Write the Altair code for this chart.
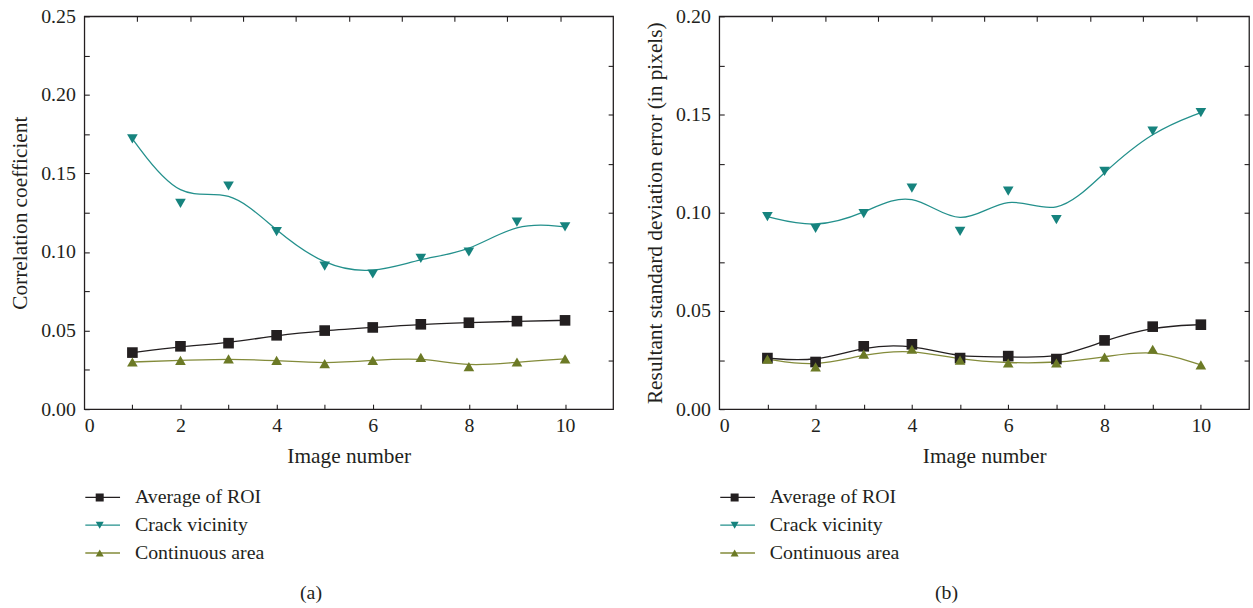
import altair as alt
import pandas as pd

image_numbers = [1, 2, 3, 4, 5, 6, 7, 8, 9, 10]
series_names = ["Average of ROI", "Crack vicinity", "Continuous area"]

# Panel (a): correlation coefficient
a_avg_roi = [0.036, 0.040, 0.042, 0.047, 0.050, 0.052, 0.054, 0.055, 0.056, 0.0565]
a_crack = [0.172, 0.131, 0.142, 0.113, 0.091, 0.086, 0.096, 0.100, 0.119, 0.116]
a_continuous = [0.030, 0.031, 0.032, 0.031, 0.029, 0.031, 0.033, 0.027, 0.030, 0.032]

# Panel (b): resultant standard deviation error
b_avg_roi = [0.026, 0.024, 0.032, 0.033, 0.026, 0.027, 0.0255, 0.035, 0.042, 0.043]
b_crack = [0.098, 0.092, 0.0995, 0.1125, 0.0905, 0.111, 0.0965, 0.121, 0.1415, 0.151]
b_continuous = [0.0255, 0.0215, 0.028, 0.0305, 0.025, 0.0235, 0.0235, 0.0265, 0.0305, 0.0225]

x_label_values = [0, 2, 4, 6, 8, 10]
x_tick_values = [1, 2, 3, 4, 5, 6, 7, 8, 9, 10]
frame_x_ticks = [1, 2, 3, 4, 5, 6, 7, 8, 9]
frame_y_ticks = [0.025, 0.05, 0.075, 0.1, 0.125, 0.15, 0.175]

line_colors = ["#231f20", "#23908c", "#838b3a"]
marker_colors = ["#231f20", "#16837e", "#6c7a26"]
marker_shapes = ["square", "triangle-down", "triangle-up"]

FONT = "Liberation Serif"
TXT = "#231f20"
W_A, W_B, H = 533, 534, 396


def make_df(avg, crack, cont):
    rows = []
    for name, vals in zip(series_names, [avg, crack, cont]):
        for x, v in zip(image_numbers, vals):
            rows.append({"image": x, "value": v, "series": name, "line_series": name})
    return pd.DataFrame(rows)


def panel(df, width, ymax, ytitle, minor_values, caption):
    stroke_legend = alt.Legend(
        orient="none", legendX=0, legendY=475, title=None, values=series_names,
        symbolType="stroke", symbolSize=1225, symbolStrokeWidth=1.3,
        labelFont=FONT, labelFontSize=20, labelColor=TXT, labelOffset=14,
        clipHeight=20, rowPadding=8, padding=0,
    )
    point_legend = alt.Legend(
        orient="none", legendX=5.5, legendY=475, title=None,
        symbolSize=65, symbolStrokeWidth=0, symbolOpacity=1,
        labelFont=FONT, labelFontSize=20, labelColor=TXT, labelExpr="''",
        clipHeight=20, rowPadding=8, padding=0,
    )
    lines = alt.Chart(df).mark_line(interpolate="basis", strokeWidth=1.3).encode(
        x=alt.X("image:Q", scale=alt.Scale(domain=[0, 11], nice=False, zero=False),
                axis=alt.Axis(orient="bottom", values=x_label_values, format="d",
                              ticks=False, domain=False, grid=False, labelPadding=7,
                              title="Image number", titlePadding=10)),
        y=alt.Y("value:Q", scale=alt.Scale(domain=[0, ymax], nice=False),
                axis=alt.Axis(orient="left", values=[round(0.05 * i, 2) for i in range(int(round(ymax / 0.05)) + 1)],
                              format=".2f", ticks=False, domain=False, grid=False,
                              labelPadding=9, title=ytitle, titlePadding=9)),
        stroke=alt.Stroke("line_series:N",
                          scale=alt.Scale(domain=series_names[::-1], range=line_colors[::-1]),
                          legend=stroke_legend),
    )
    points = alt.Chart(df).mark_point(filled=True, opacity=1, strokeWidth=0, size=115).encode(
        x=alt.X("image:Q", scale=alt.Scale(domain=[0, 11], nice=False, zero=False),
                axis=alt.Axis(orient="top", offset=-H, values=x_tick_values, labels=False,
                              tickSize=5, domain=False, grid=False, title=None)),
        y=alt.Y("value:Q", scale=alt.Scale(domain=[0, ymax], nice=False),
                axis=alt.Axis(orient="right", offset=-width, values=minor_values, labels=False,
                              tickSize=5, domain=False, grid=False, title=None)),
        fill=alt.Fill("series:N", scale=alt.Scale(domain=series_names, range=marker_colors),
                      legend=point_legend),
        shape=alt.Shape("series:N", scale=alt.Scale(domain=series_names, range=marker_shapes),
                        legend=point_legend),
    )
    frame = alt.Chart(df).mark_point(opacity=0).encode(
        x=alt.X("image:Q", scale=alt.Scale(domain=[0, 10], nice=False, zero=False),
                axis=alt.Axis(orient="bottom", offset=-H, values=frame_x_ticks, labels=False,
                              tickSize=5, domain=False, grid=False, title=None)),
        y=alt.Y("value:Q", scale=alt.Scale(domain=[0, 0.2], nice=False),
                axis=alt.Axis(orient="left", offset=-width, values=frame_y_ticks, labels=False,
                              tickSize=5, domain=False, grid=False, title=None)),
    )
    return alt.layer(lines, points, frame).resolve_scale(
        x="independent", y="independent"
    ).properties(
        width=width, height=H,
        title=alt.TitleParams(caption, orient="bottom", anchor="middle", dx=-38, offset=20,
                              font=FONT, fontSize=20, fontWeight="normal", color=TXT),
    )


df_a = make_df(a_avg_roi, a_crack, a_continuous)
df_b = make_df(b_avg_roi, b_crack, b_continuous)

minor_a = [round(0.025 * i, 3) for i in range(11)]
minor_b = [round(0.025 * i, 3) for i in range(9)]

pa = panel(df_a, W_A, 0.25, "Correlation coefficient", minor_a, "(a)")
pb = panel(df_b, W_B, 0.20, "Resultant standard deviation error (in pixels)", minor_b, "(b)")

chart = alt.hconcat(pa, pb, spacing=27).resolve_scale(
    stroke="independent", fill="independent", shape="independent"
).resolve_legend(
    stroke="independent", fill="independent", shape="independent"
).properties(
    padding={"left": 9, "top": 3, "right": 0, "bottom": 0},
    background="white",
).configure_view(
    stroke=TXT, strokeWidth=1.3
).configure_axis(
    labelFont=FONT, titleFont=FONT, labelFontSize=20, titleFontSize=21.5,
    labelColor=TXT, titleColor=TXT, tickColor=TXT, titleFontWeight="normal", tickWidth=1.1
)

chart.save("out.html", embed_options={"renderer": "svg", "actions": False})
